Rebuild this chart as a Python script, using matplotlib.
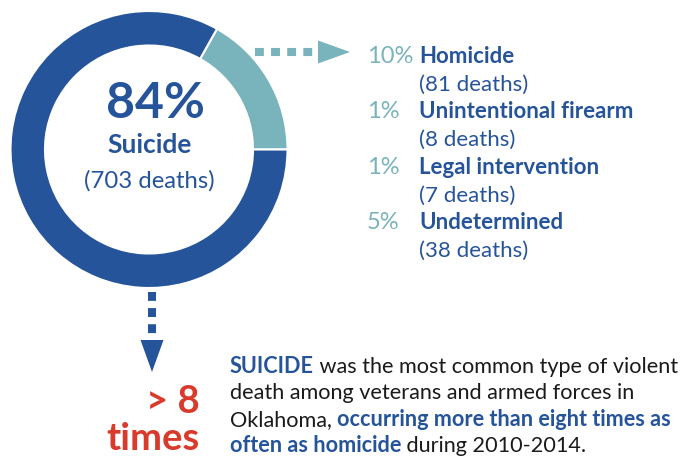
import matplotlib.pyplot as plt
from matplotlib.patches import Polygon

BLUE = "#26549a"
TEAL = "#79b3bb"
RED = "#d83b2b"
BLACK = "#1a1a1a"
FONT = "Lato"

suicide_pct = 84
suicide_deaths = 703
other_labels = ["Homicide", "Unintentional firearm", "Legal intervention", "Undetermined"]
other_pct = [10, 1, 1, 5]
other_deaths = [81, 8, 7, 38]
ratio_text = ["> 8", "times"]

summary_lines = [
    [("SUICIDE", BLUE, "bold"), (" was the most common type of violent", BLACK, "normal")],
    [("death among veterans and armed forces in", BLACK, "normal")],
    [("Oklahoma, ", BLACK, "normal"), ("occurring more than eight times as", BLUE, "bold")],
    [("often as homicide", BLUE, "bold"), (" during 2010-2014.", BLACK, "normal")],
]


def dotted_arrow(ax, x0, y0, x1, y1, head_len, head_w, color):
    # dotted shaft made of square dashes, then a triangle head
    ax.plot([x0, x1], [y0, y1], color=color, lw=5.8,
            linestyle=(0, (1.1, 0.9)), solid_capstyle="butt", dash_capstyle="butt")
    if y0 == y1:
        pts = [(x1, y1 - head_w / 2), (x1 + head_len, y1), (x1, y1 + head_w / 2)]
    else:
        pts = [(x1 - head_w / 2, y1), (x1, y1 + head_len), (x1 + head_w / 2, y1)]
    ax.add_patch(Polygon(pts, closed=True, color=color, lw=0))


def main():
    fig = plt.figure(figsize=(6.88, 4.59), dpi=100)
    ax = fig.add_axes([0, 0, 1, 1])

    # donut; y axis gets inverted so counterclock=False reads as counterclockwise
    ax.pie([sum(other_pct), suicide_pct], colors=[TEAL, BLUE], startangle=0,
           counterclock=False, center=(149, 149.5), radius=138.5,
           wedgeprops=dict(width=34.5, edgecolor="white", linewidth=1.5))
    ax.set_xlim(0, 688)
    ax.set_ylim(459, 0)
    ax.set_aspect("equal")
    ax.axis("off")

    ax.text(155, 118, f"{suicide_pct}%", color=BLUE, fontsize=36, fontweight="bold",
            family=FONT, ha="center", va="baseline")
    ax.text(150, 153, "Suicide", color=BLUE, fontsize=19, fontweight="bold",
            family=FONT, ha="center", va="baseline")
    ax.text(149, 188, f"({suicide_deaths} deaths)", color=BLUE, fontsize=17.2,
            family=FONT, ha="center", va="baseline")

    dotted_arrow(ax, 255, 52, 318, 52, 32, 23, TEAL)
    dotted_arrow(ax, 152, 292, 152, 340, 32, 23, BLUE)

    for i, (lab, pct, n) in enumerate(zip(other_labels, other_pct, other_deaths)):
        y = 63 + i * 55.4
        ax.text(367, y, f"{pct}%", color=TEAL, fontsize=17,
                family=FONT, va="baseline")
        ax.text(419, y, lab, color=BLUE, fontsize=16, fontweight="bold",
                family=FONT, va="baseline")
        ax.text(419, y + 27.7, f"({n} deaths)", color=BLUE, fontsize=16,
                family=FONT, va="baseline")

    ax.text(200, 413, ratio_text[0], color=RED, fontsize=27.5, fontweight="bold",
            family=FONT, ha="right", va="baseline")
    ax.text(200, 450, ratio_text[1], color=RED, fontsize=27.5, fontweight="bold",
            family=FONT, ha="right", va="baseline")

    fig.canvas.draw()
    renderer = fig.canvas.get_renderer()
    inv = ax.transData.inverted()
    for i, runs in enumerate(summary_lines):
        x = 230
        y = 373 + i * 26.4
        for txt, col, wt in runs:
            t = ax.text(x, y, txt, color=col, fontsize=15.6, fontweight=wt,
                        family=FONT, va="baseline")
            bb = t.get_window_extent(renderer)
            x = inv.transform((bb.x1, bb.y0))[0]

    fig.savefig("out.png", dpi=100)
    plt.close(fig)


if __name__ == "__main__":
    main()
